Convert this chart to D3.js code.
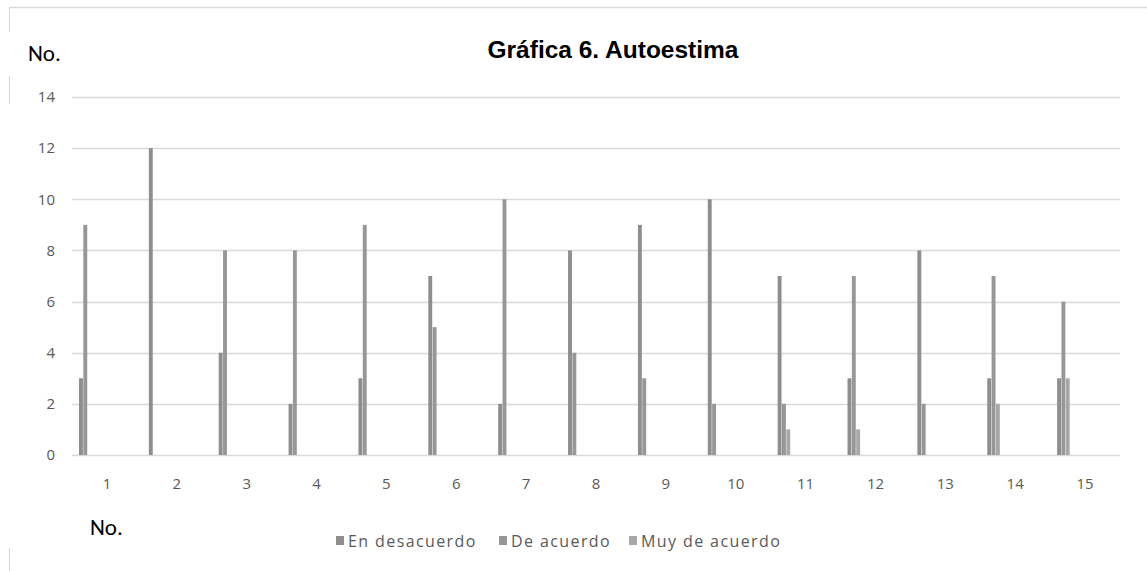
<!DOCTYPE html>
<html>
<head>
<meta charset="utf-8">
<script src="https://cdn.jsdelivr.net/npm/d3@7"></script>
<style>
  html, body { margin: 0; padding: 0; background: #fff; }
  svg { display: block; }
</style>
</head>
<body>
<svg id="chart" width="1147" height="571"></svg>
<script>
const categories = ["1","2","3","4","5","6","7","8","9","10","11","12","13","14","15"];
const seriesNames = ["En desacuerdo", "De acuerdo", "Muy de acuerdo"];
const enDesacuerdo = [3, 12, 4, 2, 3, 7, 2, 8, 9, 10, 7, 3, 8, 3, 3];
const deAcuerdo    = [9, 0, 8, 8, 9, 5, 10, 4, 3, 2, 2, 7, 2, 7, 6];
const muyDeAcuerdo = [0, 0, 0, 0, 0, 0, 0, 0, 0, 0, 1, 1, 0, 2, 3];
const yTicks = [0, 2, 4, 6, 8, 10, 12, 14];
const colors = ["#8e8e8e", "#979797", "#a8a8a8"];

const seriesValues = [enDesacuerdo, deAcuerdo, muyDeAcuerdo];
const rows = categories.map((c, i) => ({cat: c, vals: seriesNames.map((s, j) => ({s, j, v: seriesValues[j][i]}))}));

const svg = d3.select("#chart");
const m = {left: 72, right: 1120, top: 97, bottom: 455};

// frame decoration
svg.append("line").attr("x1", 9).attr("x2", 1147).attr("y1", 7.5).attr("y2", 7.5)
  .attr("stroke", "#d9d9d9").attr("stroke-width", 1.5);
[[8, 32], [76, 104], [548, 571]].forEach(([a, b]) => {
  svg.append("line").attr("x1", 9.5).attr("x2", 9.5).attr("y1", a).attr("y2", b)
    .attr("stroke", "#d9d9d9").attr("stroke-width", 1);
});

const x = d3.scaleBand().domain(categories).range([m.left, m.right]).paddingInner(0).paddingOuter(0);
const bw = x.bandwidth();
const x1 = d3.scaleBand().domain(seriesNames).range([bw * 0.1, bw * 0.28]).paddingInner(0.1);
const y = d3.scaleLinear().domain([0, 14]).range([m.bottom, m.top]);

// gridlines
svg.append("g").selectAll("line").data(yTicks).join("line")
  .attr("x1", m.left).attr("x2", m.right)
  .attr("y1", d => Math.round(y(d)) + 0.5).attr("y2", d => Math.round(y(d)) + 0.5)
  .attr("stroke", "#d9d9d9").attr("stroke-width", 1.3);

// y tick labels
svg.append("g").selectAll("text").data(yTicks).join("text")
  .attr("x", 55).attr("y", d => y(d)).attr("dy", "0.35em")
  .attr("text-anchor", "end")
  .attr("font-family", "'Open Sans', 'DejaVu Sans', sans-serif").attr("font-size", 15)
  .attr("fill", "#595959").text(d => d);

// x tick labels
svg.append("g").selectAll("text").data(categories).join("text")
  .attr("x", d => x(d) + bw / 2).attr("y", 489)
  .attr("text-anchor", "middle")
  .attr("font-family", "'Open Sans', 'DejaVu Sans', sans-serif").attr("font-size", 15)
  .attr("fill", "#595959").text(d => d);

// bars
const g = svg.append("g").selectAll("g").data(rows).join("g")
  .attr("transform", d => `translate(${x(d.cat)},0)`);
g.selectAll("rect").data(d => d.vals).join("rect")
  .attr("x", d => x1(d.s)).attr("width", x1.bandwidth())
  .attr("y", d => y(d.v)).attr("height", d => y(0) - y(d.v))
  .attr("fill", d => colors[d.j]);

// title
svg.append("text").attr("x", 613).attr("y", 58).attr("text-anchor", "middle")
  .attr("font-family", "'Liberation Sans', Arial, sans-serif").attr("font-weight", "bold")
  .attr("font-size", 24.5).attr("fill", "#000").text("Gráfica 6. Autoestima");

// "No." labels
svg.append("text").attr("x", 28).attr("y", 61)
  .attr("font-family", "'Carlito', 'Open Sans', sans-serif").attr("font-size", 23)
  .attr("fill", "#000").text("No.");
svg.append("text").attr("x", 90).attr("y", 535)
  .attr("font-family", "'Carlito', 'Open Sans', sans-serif").attr("font-size", 23)
  .attr("fill", "#000").text("No.");

// legend
const legendX = [336, 499, 629];
const lg = svg.append("g").selectAll("g").data(seriesNames).join("g")
  .attr("transform", (d, i) => `translate(${legendX[i]},541)`);
lg.append("rect").attr("x", 0).attr("y", -5).attr("width", 8).attr("height", 9)
  .attr("fill", (d, i) => colors[i]);
lg.append("text").attr("x", 12).attr("y", 0).attr("dy", "0.35em")
  .attr("font-family", "'Open Sans', 'DejaVu Sans', sans-serif").attr("font-size", 16)
  .attr("letter-spacing", 1.4)
  .attr("fill", "#595959").text(d => d);
</script>
</body>
</html>
